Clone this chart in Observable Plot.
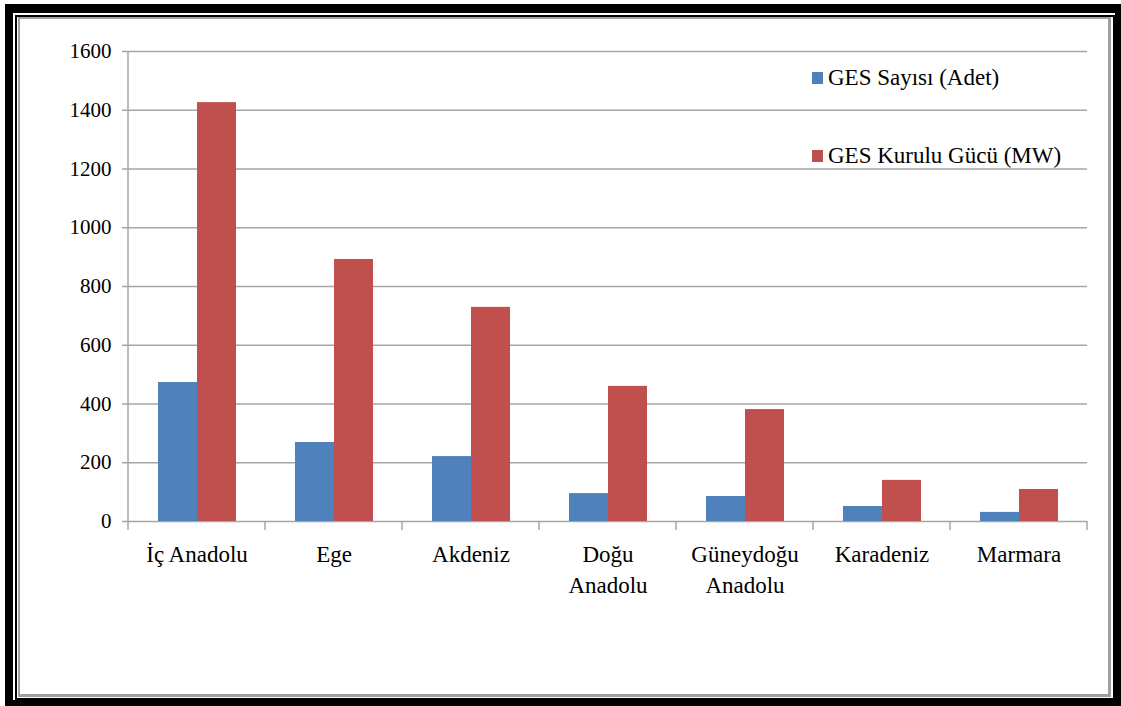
<!DOCTYPE html>
<html>
<head>
<meta charset="utf-8">
<script src="https://cdn.jsdelivr.net/npm/d3@7"></script>
<script src="https://cdn.jsdelivr.net/npm/@observablehq/plot@0.6"></script>
<style>
  html, body { margin: 0; padding: 0; background: #fff; }
  body { font-family: "Liberation Serif", "Times New Roman", Tinos, "DejaVu Serif", serif; color: #000; }
  #wrap { position: relative; width: 1121px; height: 706px; overflow: hidden; }
  #chart { position: absolute; left: 0; top: 0; }
  .box { position: absolute; box-sizing: border-box; pointer-events: none; }
  #outer { left: 5px; top: 4px; width: 1116px; height: 702px; border: solid #000; border-width: 9px 6px 6px 8px; }
  #inner { left: 15px; top: 15px; width: 1100px; height: 685px; border: 2px solid #000; }
  #shade { left: 18px; top: 17px; width: 1093px; height: 680px; border: solid #a0a0a0; border-width: 2px 3px 3px 2px; }
  #legend { position: absolute; left: 812px; top: 62px; font-size: 23px; line-height: 32px; }
  #legend .row { display: flex; align-items: center; height: 32px; margin-bottom: 46px; white-space: nowrap; }
  #legend .sw { width: 11px; height: 12px; margin-right: 5px; flex: none; }
  #chart svg text { font-family: "Liberation Serif", "Times New Roman", Tinos, "DejaVu Serif", serif; }
</style>
</head>
<body>
<div id="wrap">
  <div id="chart"></div>
  <div id="legend"></div>
  <div class="box" id="outer"></div>
  <div class="box" id="inner"></div>
  <div class="box" id="shade"></div>
</div>
<script>
// Regions (facets) and their axis labels
const regions = ["İç Anadolu", "Ege", "Akdeniz", "Doğu Anadolu", "Güneydoğu Anadolu", "Karadeniz", "Marmara"];
const regionLabels = ["İç Anadolu", "Ege", "Akdeniz", "Doğu\nAnadolu", "Güneydoğu\nAnadolu", "Karadeniz", "Marmara"];

// Series
const series = ["GES Sayısı (Adet)", "GES Kurulu Gücü (MW)"];
const colors = ["#4f81bd", "#c0504d"];

// Values per region
const gesCount = [473, 269, 221, 95, 85, 51, 31];
const gesCapacity = [1426, 892, 729, 460, 381, 140, 109];

// Value axis ticks
const yTicks = [0, 200, 400, 600, 800, 1000, 1200, 1400, 1600];

const rows = regions.flatMap((region, i) => [
  {region, series: series[0], value: gesCount[i]},
  {region, series: series[1], value: gesCapacity[i]}
]);
const labelOf = new Map(regions.map((r, i) => [r, regionLabels[i]]));

const gridColor = "#a6a6a6";
const serif = "'Liberation Serif', 'Times New Roman', Tinos, 'DejaVu Serif', serif";

const chart = Plot.plot({
  width: 1121,
  height: 706,
  marginTop: 51,
  marginLeft: 128,
  marginRight: 34,
  marginBottom: 185,
  style: {background: "transparent", fontFamily: serif, fontSize: "21px", color: "#000", overflow: "visible"},
  fx: {domain: regions, paddingInner: 0, paddingOuter: 0, label: null},
  x: {domain: series, paddingInner: 0, paddingOuter: 0.756, axis: null},
  y: {domain: [0, 1600], label: null},
  color: {domain: series, range: colors},
  marks: [
    Plot.gridY(yTicks, {stroke: gridColor, strokeOpacity: 1, strokeWidth: 1.5}),
    Plot.axisY(yTicks, {tickSize: 6, tickPadding: 11, stroke: gridColor, strokeWidth: 1.5, strokeOpacity: 1, fontSize: 21, tickFormat: d => String(d), label: null}),
    Plot.barY(rows, {fx: "region", x: "series", y: "value", fill: "series"}),
    Plot.axisFx({anchor: "bottom", tickSize: 0, tickPadding: 18, fontSize: 23, lineHeight: 1.35, tickFormat: d => labelOf.get(d), label: null})
  ]
});

document.getElementById("chart").appendChild(chart);

// Value axis line and category separator ticks, placed from the chart's own scales
const fx = chart.scale("fx");
const y = chart.scale("y");
const svg = d3.select(chart);
const left = fx.apply(regions[0]);
const edges = regions.map(r => fx.apply(r)).concat([fx.apply(regions[regions.length - 1]) + fx.bandwidth]);
const g = svg.append("g").attr("stroke", gridColor).attr("stroke-width", 1.5);
g.append("line")
  .attr("x1", left).attr("x2", left)
  .attr("y1", y.apply(1600)).attr("y2", y.apply(0));
g.selectAll("line.sep").data(edges).join("line")
  .attr("class", "sep")
  .attr("x1", d => d).attr("x2", d => d)
  .attr("y1", y.apply(0)).attr("y2", y.apply(0) + 9);

// Legend
const legend = d3.select("#legend");
series.forEach((s, i) => {
  const row = legend.append("div").attr("class", "row");
  row.append("div").attr("class", "sw").style("background", colors[i]);
  row.append("span").text(s);
});
</script>
</body>
</html>
